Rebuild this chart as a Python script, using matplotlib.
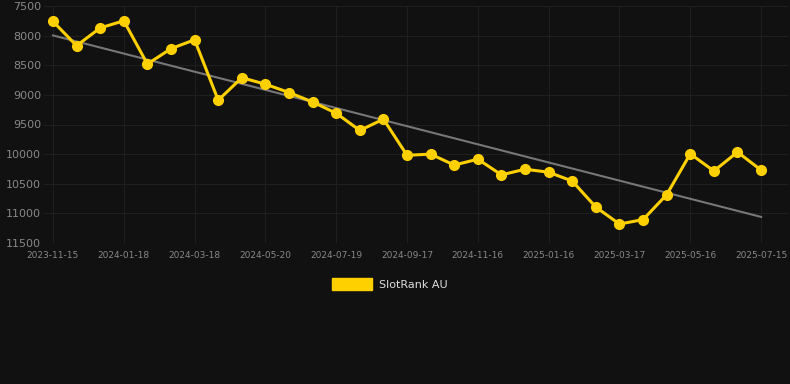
import numpy as np
import matplotlib
matplotlib.use("Agg")
import matplotlib.pyplot as plt

tick_labels = ['2023-11-15', '2024-01-18', '2024-03-18', '2024-05-20', '2024-07-19',
               '2024-09-17', '2024-11-16', '2025-01-16', '2025-03-17', '2025-05-16',
               '2025-07-15']
ranks = [7760, 8170, 7870, 7750, 8480, 8220, 8070, 9090, 8710, 8820,
         8960, 9120, 9310, 9600, 9410, 10020, 10000, 10185, 10085, 10350,
         10255, 10305, 10455, 10895, 11180, 11105, 10685, 9995, 10285, 9965,
         10270]

bg = '#111111'
grid_c = '#1f1f1f'
yellow = '#FFD000'

fig = plt.figure(figsize=(7.9, 3.84), dpi=100, facecolor=bg)
ax = fig.add_axes([44 / 790, 1 - 243 / 384, 744 / 790, 237 / 384])
ax.set_facecolor(bg)

x = np.arange(len(ranks))
ax.plot(x, ranks, color=yellow, lw=2.2, marker='o', ms=7, zorder=3, label='SlotRank AU')

# trend line
k, b = np.polyfit(x, ranks, 1)
ax.plot(x, k * x + b, color='#777777', lw=1.5, zorder=2)

ax.set_ylim(11500, 7500)
ax.set_xlim(-0.38, 31.14)
ax.set_yticks(range(7500, 11501, 500))
ax.set_xticks(x[::3])
ax.set_xticklabels(tick_labels)

ax.grid(True, color=grid_c, lw=0.8)
ax.set_axisbelow(True)
for s in ax.spines.values():
    s.set_visible(False)
ax.tick_params(axis='y', colors='#888888', labelsize=8, length=0, pad=2)
ax.tick_params(axis='x', colors='#888888', labelsize=6.5, length=0, pad=6)

leg = fig.legend(handles=[plt.Rectangle((0, 0), 1, 1, color=yellow)], labels=['SlotRank AU'],
                 loc='center', bbox_to_anchor=(390 / 790, 1 - 284 / 384), frameon=False,
                 fontsize=8, handlelength=3.6, handleheight=1.2, handletextpad=0.6)
for t in leg.get_texts():
    t.set_color('#dddddd')

fig.savefig('out.png', dpi=100, facecolor=bg)
